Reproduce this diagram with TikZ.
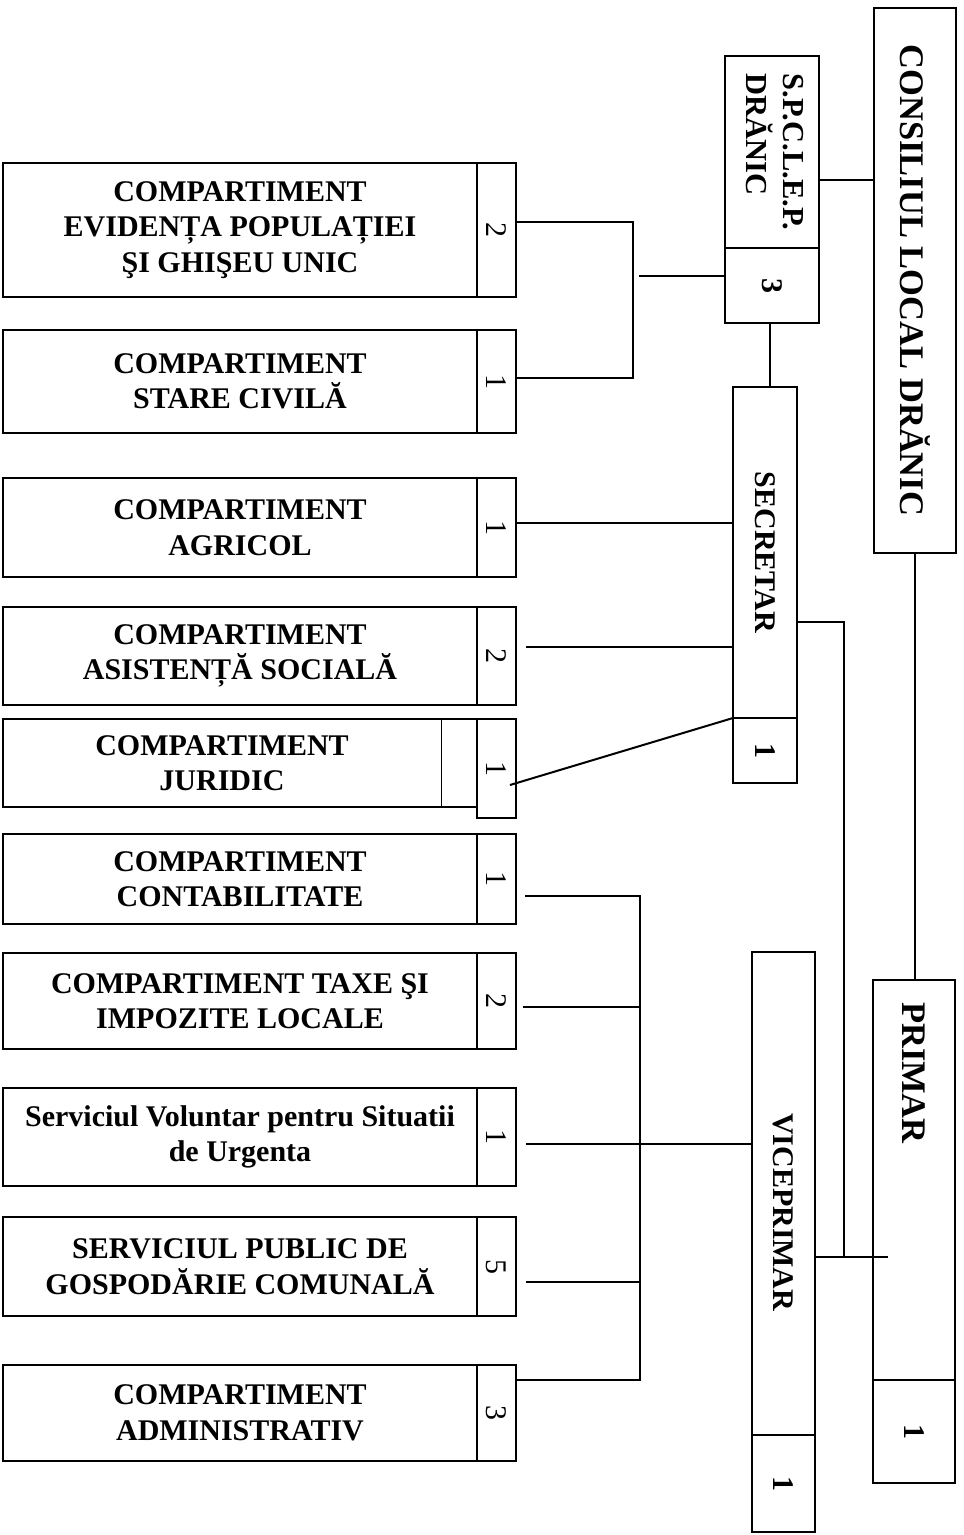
\documentclass[tikz,border=0pt]{standalone}
\usepackage{fontspec}
\setmainfont{Liberation Serif}
\usepackage{graphicx}
\usetikzlibrary{calc}
\newcommand{\vtxt}[1]{\rotatebox{-90}{#1}}
\tikzset{
  box/.style={draw, line width=2.1pt, rectangle, inner sep=0pt, outer sep=0pt, anchor=north west},
  lbl/.style={font=\fontsize{30}{35.5}\selectfont\bfseries, align=center},
  num/.style={font=\fontsize{30}{30}\selectfont},
  bnum/.style={font=\fontsize{30}{30}\selectfont\bfseries},
  big/.style={font=\fontsize{34.5}{36}\selectfont\bfseries},
  conn/.style={line width=2pt},
}
\begin{document}
\begin{tikzpicture}[x=1pt,y=-1pt]
\useasboundingbox (0,0) rectangle (964,1535);
% left compartments
\node[box,lbl,minimum width=474pt,minimum height=134pt] (b1) at (3,163) {COMPARTIMENT\\EVIDENȚA POPULAȚIEI\\ŞI GHIŞEU UNIC};
\node[box,num,minimum width=39pt,minimum height=134pt] (n1) at (477,163) {\vtxt{2}};
\node[box,lbl,minimum width=474pt,minimum height=103pt] (b2) at (3,330) {COMPARTIMENT\\STARE CIVILĂ};
\node[box,num,minimum width=39pt,minimum height=103pt] (n2) at (477,330) {\vtxt{1}};
\node[box,lbl,minimum width=474pt,minimum height=99pt] (b3) at (3,478) {COMPARTIMENT\\AGRICOL};
\node[box,num,minimum width=39pt,minimum height=99pt] (n3) at (477,478) {\vtxt{1}};
\node[box,lbl,minimum width=474pt,minimum height=98pt] (b4) at (3,607) {COMPARTIMENT\\ASISTENȚĂ SOCIALĂ};
\node[box,num,minimum width=39pt,minimum height=98pt] (n4) at (477,607) {\vtxt{2}};
\node[box,minimum width=474pt,minimum height=88pt] (b5x) at (3,719) {};
\node[lbl,inner sep=0pt] (b5) at (222,763) {COMPARTIMENT\\JURIDIC};
\draw[line width=1pt] (b5x.north west -| 441,0) -- (b5x.south west -| 441,0);
\node[box,num,minimum width=39pt,minimum height=99pt,line width=2.6pt] (n5) at (477,719) {\vtxt{1}};
\node[box,lbl,minimum width=474pt,minimum height=90pt] (b6) at (3,834) {COMPARTIMENT\\CONTABILITATE};
\node[box,num,minimum width=39pt,minimum height=90pt] (n6) at (477,834) {\vtxt{1}};
\node[box,lbl,minimum width=474pt,minimum height=96pt] (b7) at (3,953) {COMPARTIMENT TAXE ŞI\\IMPOZITE LOCALE};
\node[box,num,minimum width=39pt,minimum height=96pt] (n7) at (477,953) {\vtxt{2}};
\node[box,lbl,minimum width=474pt,minimum height=98pt] (b8) at (3,1088) {Serviciul Voluntar pentru Situatii\\de Urgenta};
\node[box,num,minimum width=39pt,minimum height=98pt] (n8) at (477,1088) {\vtxt{1}};
\node[box,lbl,minimum width=474pt,minimum height=99pt] (b9) at (3,1217) {SERVICIUL PUBLIC DE\\GOSPODĂRIE COMUNALĂ};
\node[box,num,minimum width=39pt,minimum height=99pt] (n9) at (477,1217) {\vtxt{5}};
\node[box,lbl,minimum width=474pt,minimum height=96pt] (b10) at (3,1365) {COMPARTIMENT\\ADMINISTRATIV};
\node[box,num,minimum width=39pt,minimum height=96pt] (n10) at (477,1365) {\vtxt{3}};
% right column
\node[box,big,minimum width=82pt,minimum height=545pt] (cons) at (874,8) {\vtxt{CONSILIUL LOCAL DRĂNIC}};
\node[box,minimum width=94pt,minimum height=192pt,font=\fontsize{30.5}{34}\selectfont\bfseries] (spu) at (725,56) {\vtxt{\begin{tabular}{@{}l@{}}S.P.C.L.E.P.\\DRĂNIC\end{tabular}}};
\node[box,bnum,minimum width=94pt,minimum height=75pt] (spl) at (725,248) {\vtxt{3}};
\node[box,lbl,minimum width=64pt,minimum height=331pt] (sec) at (733,387) {\vtxt{SECRETAR}};
\node[box,bnum,minimum width=64pt,minimum height=65pt] (secl) at (733,718) {\vtxt{1}};
\node[box,lbl,minimum width=63pt,minimum height=483pt] (vice) at (752,952) {\vtxt{\makebox[483pt][l]{\hspace*{161pt}VICEPRIMAR}}};
\node[box,bnum,minimum width=63pt,minimum height=97pt] (vicel) at (752,1435) {\vtxt{1}};
\node[box,big,minimum width=82pt,minimum height=400pt] (primar) at (873,980) {\vtxt{\makebox[400pt][l]{\hspace*{22pt}PRIMAR}}};
\node[box,bnum,minimum width=82pt,minimum height=103pt] (primarl) at (873,1380) {\vtxt{1}};
% junctions
\coordinate (br) at (633,276);
\coordinate (bt) at (640,896);
\coordinate (bb) at (640,1380);
\coordinate (sp) at (844,1257);
% connectors
\draw[conn] (spu.east |- 0,180) -- (cons.west |- 0,180);
\draw[conn] (spl.south -| 770,0) -- (sec.north -| 770,0);
\draw[conn] (cons.south -| 915,0) -- (primar.north -| 915,0);
\draw[conn] (n1.east |- 0,222) -| (br) |- (n2.east |- 0,378);
\draw[conn] ([xshift=6pt]br) -- (spl.west |- br);
\draw[conn] (n3.east |- 0,523) -- (sec.west |- 0,523);
\draw[conn] ([xshift=10pt]n4.east |- 0,647) -- (sec.west |- 0,647);
\draw[conn] ([xshift=-6pt]n5.east |- 0,785) -- (secl.north west);
\draw[conn] ([xshift=9pt]n6.east |- bt) -- (bt) -- (bb) -- (n10.east |- bb);
\draw[conn] ([xshift=7pt]n7.east |- 0,1007) -- (bt |- 0,1007);
\draw[conn] ([xshift=10pt]n8.east |- 0,1144) -- (vice.west |- 0,1144);
\draw[conn] ([xshift=10pt]n9.east |- 0,1282) -- (bt |- 0,1282);
\draw[conn] (sec.east |- 0,622) -| (sp);
\draw[conn] (vice.east |- sp) -- ([xshift=15pt]primar.west |- sp);
\end{tikzpicture}
\end{document}
